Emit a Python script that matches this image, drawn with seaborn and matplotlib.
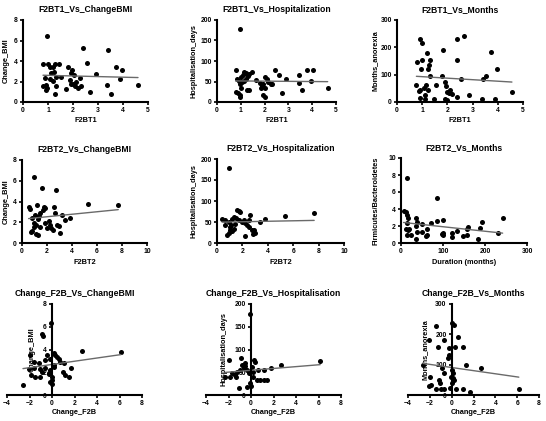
import matplotlib
matplotlib.use("Agg")
import matplotlib.pyplot as plt
import seaborn as sns
import numpy as np

sns.set_theme(style="ticks")
plt.rcParams['font.family'] = ['Liberation Sans', 'DejaVu Sans']
plt.rcParams['font.weight'] = 'bold'

# ---------------- data ----------------
# Panel 1: F2BT1 vs Change_BMI
p1_x = [0.97, 2.40, 3.40, 2.56, 3.73, 3.97, 2.90, 3.35, 3.50, 3.87, 4.60, 2.67, 2.33, 2.27,
        0.80, 1.00, 1.07, 1.20, 1.27, 1.44, 1.13, 1.23, 1.30, 0.87, 1.07, 0.93, 0.80, 0.97,
        0.93, 1.27, 1.33, 1.53, 1.20, 1.80, 1.97, 1.93, 2.03, 1.87, 1.73, 1.90, 2.00, 2.13,
        2.20, 2.07]
p1_y = [6.4, 5.3, 5.1, 3.8, 3.4, 3.1, 2.7, 1.7, 0.8, 2.2, 1.65, 1.0, 1.55, 2.3,
        3.7, 3.7, 3.45, 3.4, 3.7, 3.75, 2.8, 2.95, 2.4, 2.3, 2.2, 1.7, 1.6, 1.4,
        1.15, 0.8, 1.6, 2.4, 2.05, 3.4, 3.1, 2.8, 2.6, 2.1, 1.3, 1.8, 1.8, 1.95,
        1.4, 1.6]

# Panel 2: F2BT1 vs Hospitalization_days
p2_x = [0.95, 0.80, 0.82, 0.78, 0.88, 0.95, 0.97, 0.92, 1.00, 0.98, 1.02, 1.10, 1.15, 1.20,
        1.22, 1.30, 1.35, 1.25, 1.35, 1.48, 1.62, 1.80, 1.85, 1.95, 2.00, 2.02, 1.95, 2.02,
        2.09, 2.16, 2.25, 2.33, 2.43, 2.60, 2.72, 2.92, 3.44, 3.46, 3.57, 3.80, 3.95, 4.04,
        4.65, 1.05, 1.12, 1.90]
p2_y = [177, 78, 56, 24, 22, 16, 11, 51, 60, 45, 33, 65, 73, 71,
        57, 63, 68, 30, 30, 73, 53, 47, 35, 45, 61, 35, 16, 12,
        55, 49, 43, 43, 79, 65, 23, 55, 47, 67, 29, 78, 51, 78,
        33, 48, 52, 40]

# Panel 3: F2BT1 vs Months_anorexia
p3_x = [0.90, 0.99, 0.79, 0.99, 0.95, 1.19, 1.30, 1.26, 1.23, 1.32, 1.83, 1.79, 2.38, 2.40,
        2.67, 2.55, 3.73, 3.97, 3.41, 3.54, 4.56, 0.77, 0.86, 0.93, 1.06, 1.16, 1.22, 0.93,
        1.12, 1.46, 1.56, 1.92, 1.96, 1.98, 2.05, 2.12, 2.18, 1.92, 1.98, 2.38, 2.84, 3.37,
        3.90, 1.12]
p3_y = [229, 217, 147, 153, 119, 180, 155, 135, 119, 95, 192, 95, 155, 229,
        241, 83, 184, 120, 83, 94, 37, 61, 40, 45, 53, 61, 45, 16,
        12, 12, 61, 73, 57, 37, 33, 45, 31, 12, 9, 18, 24, 12,
        12, 24]

# Panel 4: F2BT2 vs Change_BMI
p4_x = [0.93, 1.60, 2.75, 5.30, 7.70, 0.53, 0.60, 1.20, 1.73, 1.87, 1.70, 2.53, 2.60, 3.20,
        3.47, 3.87, 0.80, 1.07, 1.47, 1.25, 0.93, 1.15, 0.80, 0.93, 1.15, 1.25, 1.40, 2.13,
        2.27, 2.32, 2.48, 2.80, 2.93, 3.00, 1.80, 2.00, 0.70, 1.35]
p4_y = [6.4, 5.3, 5.1, 3.8, 3.7, 3.5, 3.3, 3.7, 3.5, 3.4, 3.2, 3.45, 2.9, 2.7,
        2.2, 2.4, 2.4, 2.7, 2.9, 2.3, 1.9, 1.75, 1.2, 1.5, 0.9, 0.8, 1.5, 2.1,
        1.75, 1.45, 1.3, 1.7, 1.6, 1.0, 1.9, 1.45, 1.1, 2.6]

# Panel 5: F2BT2 vs Hospitalization_days
p5_x = [0.92, 7.65, 5.34, 3.76, 3.42, 2.63, 2.50, 0.40, 0.66, 0.79, 0.97, 1.13, 1.18, 1.30,
        1.58, 1.71, 1.84, 1.76, 1.97, 2.10, 2.24, 2.37, 2.50, 2.76, 2.90, 3.03, 2.82, 2.24,
        1.05, 1.30, 1.20, 1.40, 0.92, 0.66, 1.50, 1.00]
p5_y = [178, 72, 64, 56, 50, 66, 54, 56, 54, 20, 24, 42, 56, 62,
        78, 77, 74, 54, 50, 54, 48, 42, 37, 30, 32, 24, 22, 17,
        32, 34, 28, 46, 50, 42, 60, 38]

# Panel 6: Duration (months) vs Firmicutes/Bacteroidetes
p6_x = [14, 86, 6, 12, 14, 16, 36, 38, 99, 86, 194, 242, 14, 12,
        16, 20, 24, 14, 36, 49, 71, 38, 36, 49, 62, 63, 99, 97,
        121, 121, 133, 147, 159, 157, 183, 187, 230, 60, 157, 99]
p6_y = [7.7, 5.3, 3.8, 3.7, 3.3, 3.0, 2.9, 2.5, 2.7, 2.6, 2.5, 2.9, 2.4, 1.7,
        1.5, 1.6, 1.0, 0.9, 2.0, 2.2, 2.3, 1.3, 0.5, 1.3, 1.6, 0.9, 1.0, 1.1,
        1.2, 0.7, 1.4, 0.8, 1.9, 1.0, 0.5, 1.8, 1.2, 0.8, 1.6, 1.2]

# Panel 7: Change_F2B vs Change_BMI
p7_x = [-0.09, -0.89, -0.80, 2.67, 6.13, -2.00, -0.44, 0.15, 0.30, 0.45, 0.59, 0.68, -0.21,
        -0.59, -1.63, -1.19, 1.04, 1.69, -1.63, -2.07, -1.04, -0.89, -0.59, 0.15, -0.15,
        -0.30, 0.98, -1.87, -1.48, -1.04, -0.30, 0.00, 0.00, -0.15, 0.00, 1.19, 1.48,
        -2.58, 0.15]
p7_y = [6.36, 5.37, 5.2, 3.87, 3.81, 3.5, 3.5, 3.7, 3.5, 3.35, 3.2, 2.93, 3.2,
        3.05, 2.93, 2.8, 2.8, 2.4, 2.4, 2.3, 2.26, 2.05, 2.35, 2.45, 2.2,
        1.9, 2.05, 1.76, 1.6, 1.55, 1.85, 1.6, 1.3, 1.17, 1.0, 1.76, 1.6,
        0.88, 2.64]

# Panel 8: Change_F2B vs Hospitalisation_days
p8_x = [-0.06, 6.15, 2.69, 1.80, 1.12, 0.62, -1.98, -0.86, 0.24, 0.38, -0.50, -0.65, -0.95,
        -1.24, -1.68, -2.28, -1.83, -1.45, -1.33, -0.20, 0.09, 0.15, 0.53, 0.83, 1.12,
        1.42, -0.06, 0.03, -0.35, -1.03, 0.15, -0.56, -0.35, -0.80]
p8_y = [177, 75, 67, 59, 56, 55, 78, 81, 78, 73, 70, 59, 55,
        51, 48, 40, 39, 44, 39, 49, 61, 40, 34, 34, 33,
        32, 27, 20, 18, 15, 51, 64, 56, 66]

# Panel 9: Change_F2B vs Months_anorexia
p9_x = [0.00, 0.24, -1.42, 0.55, -2.12, -0.73, -1.27, 0.30, 1.00, -0.21, -0.21, -0.36, -2.64,
        1.30, -0.90, 2.73, 0.00, 0.10, -0.06, 0.10, 0.24, 0.00, -0.67, -1.20, -1.03, -2.03,
        -2.12, -1.88, -1.42, -0.97, -0.67, -0.12, 0.39, 1.00, 1.70, 6.15]
p9_y = [238, 231, 227, 192, 181, 181, 159, 159, 159, 154, 132, 121, 99,
        99, 88, 88, 82, 71, 60, 55, 49, 41, 71, 49, 41, 58,
        30, 33, 19, 19, 19, 22, 19, 19, 11, 19]

titles = ["F2BT1_Vs_ChangeBMI", "F2BT1_Vs_Hospitalization", "F2BT1_Vs_Months",
          "F2BT2_Vs_ChangeBMI", "F2BT2_Vs_Hospitalization", "F2BT2_Vs_Months",
          "Change_F2B_Vs_ChangeBMI", "Change_F2B_Vs_Hospitalisation", "Change_F2B_Vs_Months"]
xlabels = ["F2BT1", "F2BT1", "F2BT1", "F2BT2", "F2BT2", "Duration (months)",
           "Change_F2B", "Change_F2B", "Change_F2B"]
ylabels = ["Change_BMI", "Hospitalisation_days", "Months_anorexia",
           "Change_BMI", "Hospitalisation_days", "Firmicutes/Bacteroidetes",
           "Change_BMI", "Hospitalisation_days", "Months_anorexia"]
xticks = [[0, 1, 2, 3, 4, 5]] * 3 + [[0, 2, 4, 6, 8, 10]] * 2 + [[0, 100, 200, 300]] + [[-4, -2, 0, 2, 4, 6, 8]] * 3
yticks = [[0, 2, 4, 6, 8], [0, 50, 100, 150, 200], [0, 100, 200, 300],
          [0, 2, 4, 6, 8], [0, 50, 100, 150, 200], [0, 2, 4, 6, 8, 10],
          [0, 2, 4, 6, 8], [0, 50, 100, 150, 200], [0, 100, 200, 300]]

xs = [p1_x, p2_x, p3_x, p4_x, p5_x, p6_x, p7_x, p8_x, p9_x]
ys = [p1_y, p2_y, p3_y, p4_y, p5_y, p6_y, p7_y, p8_y, p9_y]

# ---------------- layout (pixel boxes: left, top, right, bottom) ----------------
W, H = 546, 421
boxes = [(23, 20, 148, 102), (217, 20, 336, 102), (397, 20, 523, 102),
         (22, 160, 147, 243), (217, 159, 344, 243), (401, 158, 527, 243),
         (7, 304, 142, 395), (206, 304, 341, 395), (408, 304, 539, 395)]
ylab_x_px = [7, 194, 376, 7, 195, 376, 33, 225, 426]

fig = plt.figure(figsize=(W / 100, H / 100), dpi=100)

for i in range(9):
    l, t, r, b = boxes[i]
    ax = fig.add_axes([l / W, 1 - b / H, (r - l) / W, (b - t) / H])
    sns.regplot(x=np.array(xs[i], float), y=np.array(ys[i], float), ax=ax, ci=None,
                scatter_kws=dict(s=13, color="black", linewidths=0, alpha=1),
                line_kws=dict(color="#6a6a6a", lw=1.0))
    ax.set_xlim(xticks[i][0], xticks[i][-1])
    ax.set_ylim(yticks[i][0], yticks[i][-1])
    ax.set_xticks(xticks[i])
    ax.set_yticks(yticks[i])
    ax.set_facecolor("white")
    for s in ["top", "right"]:
        ax.spines[s].set_visible(False)
    for s in ["left", "bottom"]:
        ax.spines[s].set_linewidth(1.5)
        ax.spines[s].set_color("black")
    if i >= 6:
        ax.spines["left"].set_position(("data", 0))
    ax.tick_params(axis="both", direction="out", length=2.5, width=1.2, color="black",
                   labelsize=4.9, pad=1.2, labelcolor="black")
    for lab in ax.get_xticklabels() + ax.get_yticklabels():
        lab.set_fontweight("bold")
    ax.set_title(titles[i], fontsize=6.2, fontweight="bold", pad=6.0, color="black")
    ax.set_xlabel(xlabels[i], fontsize=5.3, fontweight="bold", color="black")
    ax.set_ylabel(ylabels[i], fontsize=5.3, fontweight="bold", color="black")
    xl_gap = 15.5 if i < 6 else 14.5
    ax.xaxis.set_label_coords(0.5, -xl_gap / (b - t))
    ax.yaxis.set_label_coords((ylab_x_px[i] + 3 - l) / (r - l), 0.5)

fig.savefig("out.png", dpi=100, facecolor="white")
